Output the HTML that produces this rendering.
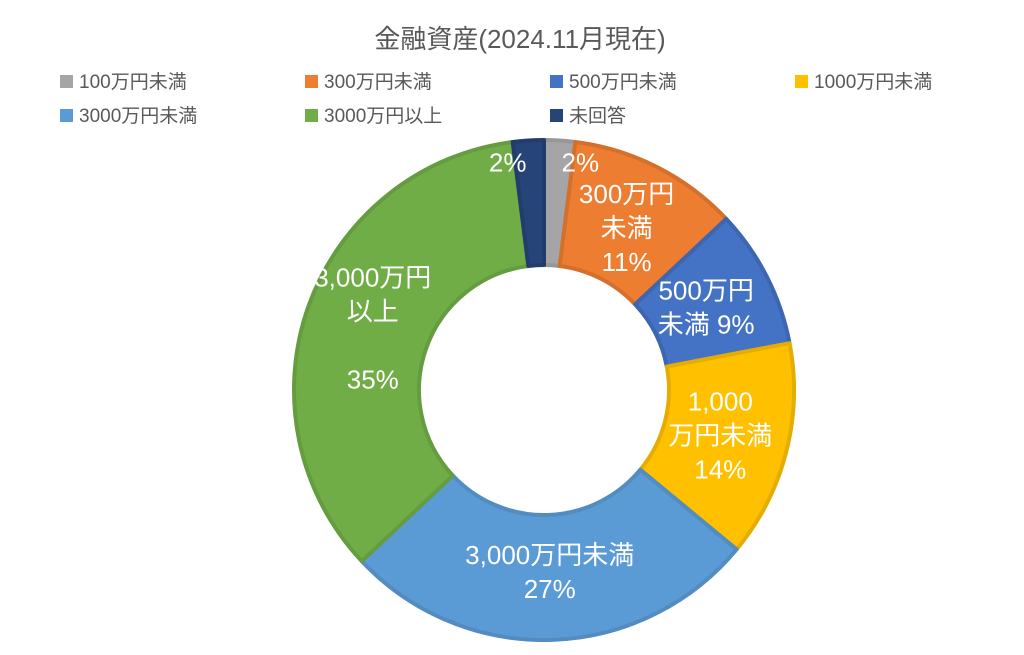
<!DOCTYPE html>
<html><head><meta charset="utf-8"><style>
body{margin:0;background:#fff;font-family:"Liberation Sans","Noto Sans CJK JP",sans-serif;}
svg text{font-family:"Liberation Sans","Noto Sans CJK JP",sans-serif;}
</style></head><body>
<svg width="1024" height="650" viewBox="0 0 1024 650">
<rect width="1024" height="650" fill="#fff"/>
<text x="520" y="48" text-anchor="middle" font-size="26" fill="#595959">金融資産(2024.11月現在)</text>
<g id="legend"></g>
<g id="slices"></g>
<g id="labels"></g>
</svg>
<script>
const categories=["100万円未満","300万円未満","500万円未満","1000万円未満","3000万円未満","3000万円以上","未回答"];
const values=[2,11,9,14,27,35,2];
const sliceLabels=[["2%"],["300万円","未満","11%"],["500万円","未満 9%"],["1,000","万円未満","14%"],["3,000万円未満","27%"],["3,000万円","以上","","35%"],["2%"]];
const colors=["#a5a5a5","#ed7d31","#4472c4","#ffc000","#5b9bd5","#70ad47","#264478"];
const strokes=["#979797","#d4702b","#3d66b0","#e5ad00","#528cc0","#659c40","#223d6c"];
const NS="http://www.w3.org/2000/svg";
const cx=544,cy=390,R=250,r=125;
const total=values.reduce((a,b)=>a+b,0);
function pt(rad,a){return [cx+rad*Math.sin(a),cy-rad*Math.cos(a)];}
const sg=document.getElementById('slices'),lg=document.getElementById('labels'),leg=document.getElementById('legend');
let acc=0;
values.forEach((v,i)=>{
  const a0=acc/total*2*Math.PI;acc+=v;const a1=acc/total*2*Math.PI;
  const large=(a1-a0)>Math.PI?1:0;
  const [x0,y0]=pt(R,a0),[x1,y1]=pt(R,a1),[x2,y2]=pt(r,a1),[x3,y3]=pt(r,a0);
  const p=document.createElementNS(NS,'path');
  p.setAttribute('d',`M${x0},${y0}A${R},${R} 0 ${large} 1 ${x1},${y1}L${x2},${y2}A${r},${r} 0 ${large} 0 ${x3},${y3}Z`);
  p.setAttribute('fill',colors[i]);p.setAttribute('stroke',strokes[i]);p.setAttribute('stroke-width','4');p.setAttribute('stroke-linejoin','round');
  
  
  sg.appendChild(p);
  const am=(a0+a1)/2;
  let lr=182;if(i===0||i===6)lr=228;
  let [lx,ly]=pt(lr,am);
  if(i===0)lx+=22;if(i===6)lx-=22;
  const lines=sliceLabels[i];const lh=34;
  const t=document.createElementNS(NS,'text');
  t.setAttribute('text-anchor','middle');t.setAttribute('fill','#fff');t.setAttribute('font-size','26');
  
  
  lines.forEach((ln,k)=>{const s=document.createElementNS(NS,'tspan');s.setAttribute('x',lx);s.setAttribute('y',ly-(lines.length-1)*lh/2+k*lh+9);s.textContent=ln||' ';t.appendChild(s);});
  lg.appendChild(t);
});
const lx=[60,305,550,795,60,305,550],ly=[81,81,81,81,115,115,115];
categories.forEach((c,i)=>{
  const g=document.createElementNS(NS,'g');
  
  
  const s=document.createElementNS(NS,'rect');s.setAttribute('x',lx[i]);s.setAttribute('y',ly[i]-6);s.setAttribute('width',13);s.setAttribute('height',13);s.setAttribute('fill',colors[i]);g.appendChild(s);
  const t=document.createElementNS(NS,'text');t.setAttribute('x',lx[i]+19);t.setAttribute('y',ly[i]+7);t.setAttribute('font-size','19');t.setAttribute('fill','#595959');t.textContent=c;g.appendChild(t);
  leg.appendChild(g);
});
</script>
</body></html>
